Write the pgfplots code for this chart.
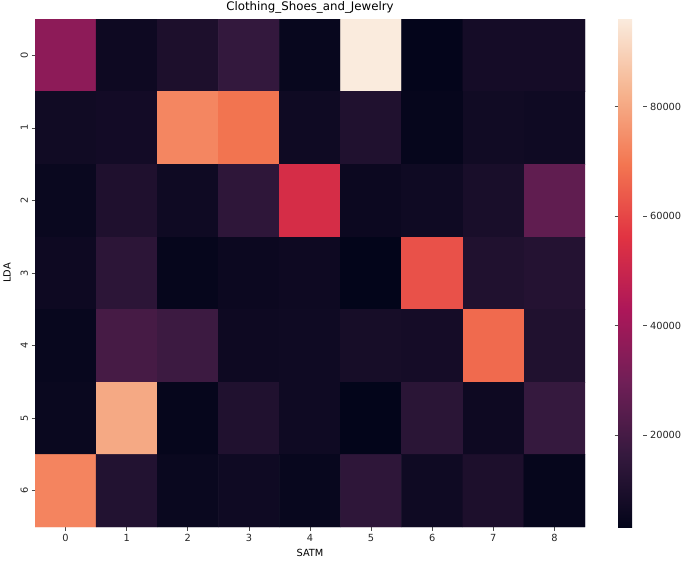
\documentclass[border=0pt]{standalone}
\usepackage{fontspec}
\setmainfont{DejaVu Sans}
\usepackage{pgfplots}
\pgfplotsset{compat=1.18}
\usepackage{pgfplotstable}
\pgfplotstableread{
x y C
0 0 36000
1 0 6000
2 0 10000
3 0 16000
4 0 4500
5 0 96000
6 0 3500
7 0 8000
8 0 8000
0 1 7000
1 1 7500
2 1 72800
3 1 69000
4 1 6500
5 1 11000
6 1 4000
7 1 7000
8 1 6500
0 2 5000
1 2 10500
2 2 6500
3 2 14500
4 2 53200
5 2 5500
6 2 6500
7 2 9000
8 2 26000
0 3 6000
1 3 14000
2 3 4000
3 3 5500
4 3 6000
5 3 3300
6 3 62100
7 3 11000
8 3 12000
0 4 4500
1 4 20300
2 4 18000
3 4 6000
4 4 6500
5 4 8500
6 4 8000
7 4 67000
8 4 11000
0 5 5000
1 5 80400
2 5 4000
3 5 11000
4 5 6500
5 5 3200
6 5 13500
7 5 6000
8 5 16500
0 6 72500
1 6 11500
2 6 5000
3 6 6500
4 6 4500
5 6 14500
6 6 6500
7 6 10000
8 6 4000
}\datatable
\pgfplotsset{/pgf/number format/assume math mode=true}
\begin{document}
\begin{tikzpicture}
\begin{axis}[
  name=main,
  scale only axis,
  width=550pt, height=508pt,
  xmin=-0.5, xmax=8.5, ymin=-0.5, ymax=6.5,
  y dir=reverse,
  axis line style={draw=none},
  xtick={0,1,2,3,4,5,6,7,8},
  ytick={0,1,2,3,4,5,6},
  tick align=outside,
  major tick length=3.5pt,
  tick style={black!70, line width=0.6pt},
  xtick pos=bottom, ytick pos=left,
  yticklabel style={rotate=90, anchor=south},
  ticklabel style={font=\fontsize{9.8}{12}\selectfont, text=black!85},
  xlabel={SATM}, ylabel={LDA},
  label style={font=\fontsize{9.8}{12}\selectfont},
  xlabel style={yshift=-1pt},
  ylabel style={yshift=3pt},
  title={Clothing\_Shoes\_and\_Jewelry},
  title style={font=\fontsize{11.8}{14}\selectfont, yshift=-4pt},
  colormap={rocket}{rgb255=(3,5,26) rgb255=(53,25,62) rgb255=(112,31,87) rgb255=(173,23,89) rgb255=(225,51,66) rgb255=(243,118,81) rgb255=(246,180,143) rgb255=(250,235,221)},
  point meta min=3200, point meta max=96000,
  colorbar,
  colorbar shift/.style={xshift=0pt},
  colorbar style={
    at={(parent axis.north east)}, anchor=north west, xshift=33pt,
    width=25pt,
    axis line style={draw=none},
    ytick={20000,40000,60000,80000},
    scaled ticks=false,
    yticklabel style={/pgf/number format/fixed, /pgf/number format/1000 sep={}, font=\fontsize{9.8}{12}\selectfont, text=black!85},
    tick align=outside,
    major tick length=3.5pt,
    tick style={black!70, line width=0.6pt},
  },
]
\addplot[matrix plot*, mesh/cols=9, point meta=explicit] table[x=x, y=y, meta=C] {\datatable};
\end{axis}
\pgfresetboundingbox
\path ([xshift=-35pt,yshift=-34pt]main.south west) rectangle ([xshift=100pt,yshift=19pt]main.north east);
\end{tikzpicture}
\end{document}
